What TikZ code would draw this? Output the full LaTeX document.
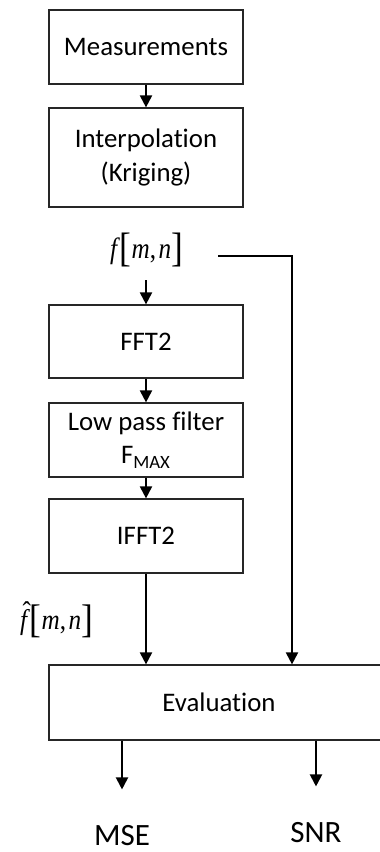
\documentclass[tikz,border=0pt]{standalone}
\usepackage{fontspec}
\usepackage{graphicx}
\setmainfont{Carlito}[Ligatures=NoCommon]
\newfontfamily\tms{Liberation Serif}
\usetikzlibrary{arrows.meta}
\newcommand{\mybr}[1]{\raisebox{-1.5pt}{\fontsize{21}{22}\selectfont #1}}
\newcommand{\myfhat}{\ooalign{\textit{f}\cr\hidewidth\hspace{2.2pt}\raisebox{4.5pt}{\char"02C6}\hidewidth\cr}}
\begin{document}
\begin{tikzpicture}[x=0.5pt,y=-0.5pt,
  box/.style={draw=black!85, line width=0.6pt, minimum width=97pt, inner sep=0pt, align=center,
              font=\fontsize{13.4}{16.8}\selectfont},
  arr/.style={line width=1pt, -{Triangle[length=6pt,width=6pt]}},
  lbl/.style={inner sep=0pt, font=\fontsize{15.5}{18}\selectfont},
  mth/.style={inner sep=0pt, font=\tms\fontsize{15}{17}\selectfont}]
\useasboundingbox (0,0) rectangle (380,852);
\node[box, minimum height=37pt] (meas) at (146,47) {Measurements};
\node[box, minimum height=49.5pt] (interp) at (146,157.5) {Interpolation\\(Kriging)};
\node[mth] (fl) at (146.5,250) {\resizebox*{36.5pt}{17pt}{\textit{f}\mybr{[}\textit{m},\kern1.5pt\textit{n}\mybr{]}}};
\node[box, minimum height=36.5pt] (fft) at (146,341.5) {FFT2};
\node[box, minimum height=37pt] (lpf) at (146,440) {Low pass filter\\F\textsubscript{MAX}};
\node[box, minimum height=37pt] (ifft) at (146,536) {IFFT2};
\node[mth] (fh) at (56.5,621.5) {\resizebox*{36.5pt}{16.5pt}{\myfhat\mybr{[}\textit{m},\kern1.5pt\textit{n}\mybr{]}}};
\node[box, minimum height=37.5pt, minimum width=170pt] (eval) at (219,702.5) {Evaluation};
\node[lbl] (mse) at (122,836) {MSE};
\node[lbl] (snr) at (316,833) {SNR};
\coordinate (tap) at (218,256);
\coordinate (corner) at (292,256);
\draw[arr] (meas) -- (interp);
\draw[arr, shorten <=6.5pt] (fl.south -| fft.north) -- (fft.north);
\draw[arr] (fft) -- (lpf);
\draw[arr] (lpf) -- (ifft);
\draw[arr] (ifft.south) -- (eval.north -| ifft.south);
\draw[arr] (tap) -- (corner) -- (eval.north -| corner);
\draw[arr, shorten >=18pt] (eval.south -| mse) -- (mse.north);
\draw[arr, shorten >=18pt] (eval.south -| snr) -- (snr.north);
\end{tikzpicture}
\end{document}
